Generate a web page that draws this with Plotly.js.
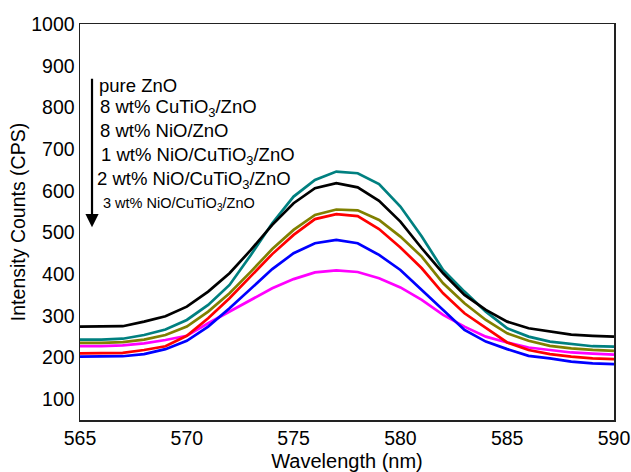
<!DOCTYPE html>
<html>
<head>
<meta charset="utf-8">
<script src="https://cdn.plot.ly/plotly-3.0.1.min.js"></script>
<style>html,body{margin:0;padding:0;background:#fff;}#chart{width:631px;height:472px;}</style>
</head>
<body>
<div id="chart"></div>
<script>
const wavelength = [565,566,567,568,569,570,571,572,573,574,575,576,577,578,579,580,581,582,583,584,585,586,587,588,589,590];
const pureZnO      = [243,243,245,254,267,290,326,374,446,522,586,626,646,642,616,562,490,410,358,310,270,250,238,232,227,226];
const cuTiO3ZnO    = [274,274,275,286,299,322,358,402,458,518,570,606,618,608,576,526,462,402,350,314,286,270,262,255,252,250];
const nioZnO       = [235,235,237,243,254,274,310,354,406,460,506,542,555,553,530,490,442,378,330,290,258,240,228,222,218,216];
const nio1         = [210,210,211,218,227,252,294,342,394,448,494,532,544,539,508,464,414,354,306,270,236,218,208,202,198,196];
const nio2         = [202,202,203,208,220,240,274,318,366,412,450,474,482,474,446,410,362,314,266,238,220,204,198,190,186,184];
const nio3         = [227,227,229,234,242,252,282,310,338,366,388,404,409,405,390,368,338,302,274,250,236,224,218,212,209,207];

const seriesNames  = ["pure ZnO","8 wt% CuTiO3/ZnO","8 wt% NiO/ZnO","1 wt% NiO/CuTiO3/ZnO","2 wt% NiO/CuTiO3/ZnO","3 wt% NiO/CuTiO3/ZnO"];
const seriesValues = [pureZnO, cuTiO3ZnO, nioZnO, nio1, nio2, nio3];
const seriesColors = ["#008080","#000000","#808000","#ff0000","#0000ff","#ff00ff"];
const legendLabels = ["pure ZnO","8 wt% CuTiO<sub>3</sub>/ZnO","8 wt% NiO/ZnO","1 wt% NiO/CuTiO<sub>3</sub>/ZnO","2 wt% NiO/CuTiO<sub>3</sub>/ZnO","3 wt% NiO/CuTiO<sub>3</sub>/ZnO"];
const xTicks = [565,570,575,580,585,590];
const yTicks = [100,200,300,400,500,600,700,800,900,1000];

const drawOrder = [5,4,3,2,0,1];
const traces = drawOrder.map(i => ({
  x: wavelength, y: seriesValues[i], name: seriesNames[i], type: 'scatter', mode: 'lines',
  line: {color: seriesColors[i], width: 2.7}, showlegend: false
}));

const legendY = [0.845, 0.788, 0.730, 0.667, 0.606, 0.545];
const legendX = [0.031, 0.033, 0.033, 0.036, 0.029, 0.040];
const legendSize = [18.5, 18.5, 18.5, 18.5, 18.5, 14.5];
const annotations = legendLabels.map((t, i) => ({
  xref: 'paper', yref: 'paper', x: legendX[i], y: legendY[i], xanchor: 'left', yanchor: 'middle',
  text: t, showarrow: false, font: {family: 'Liberation Sans, Arial, sans-serif', size: legendSize[i], color: '#000'}
}));
annotations.push({
  xref: 'paper', yref: 'paper', x: 0.0225, y: 0.487, text: '', showarrow: true,
  axref: 'pixel', ayref: 'pixel', ax: 0, ay: -150, arrowhead: 2, arrowsize: 1.2, arrowwidth: 2.2, arrowcolor: '#000'
});

const layout = {
  width: 631, height: 472,
  margin: {l: 80, r: 17, t: 24, b: 52},
  paper_bgcolor: '#fff', plot_bgcolor: '#fff',
  font: {family: 'Liberation Sans, Arial, sans-serif', color: '#000', size: 19},
  xaxis: {
    range: [565, 590], tickvals: xTicks, ticktext: xTicks.map(String), ticks: '', showgrid: false, zeroline: false,
    showline: true, linecolor: '#222', linewidth: 1.5, mirror: true,
    tickfont: {size: 19.5}, ticklabelstandoff: 0,
    title: {text: 'Wavelength (nm)', font: {size: 20}, standoff: 7}
  },
  yaxis: {
    range: [50, 1000], tickvals: yTicks, ticktext: yTicks.map(String), ticks: '', showgrid: false, zeroline: false,
    showline: true, linecolor: '#222', linewidth: 1.5, mirror: true,
    tickfont: {size: 19.5}, ticklabelstandoff: 0,
    title: {text: 'Intensity Counts (CPS)', font: {size: 19.5}, standoff: 0}
  },
  annotations: annotations,
  showlegend: false
};

Plotly.newPlot('chart', traces, layout, {displayModeBar: false, staticPlot: true});
</script>
</body>
</html>
